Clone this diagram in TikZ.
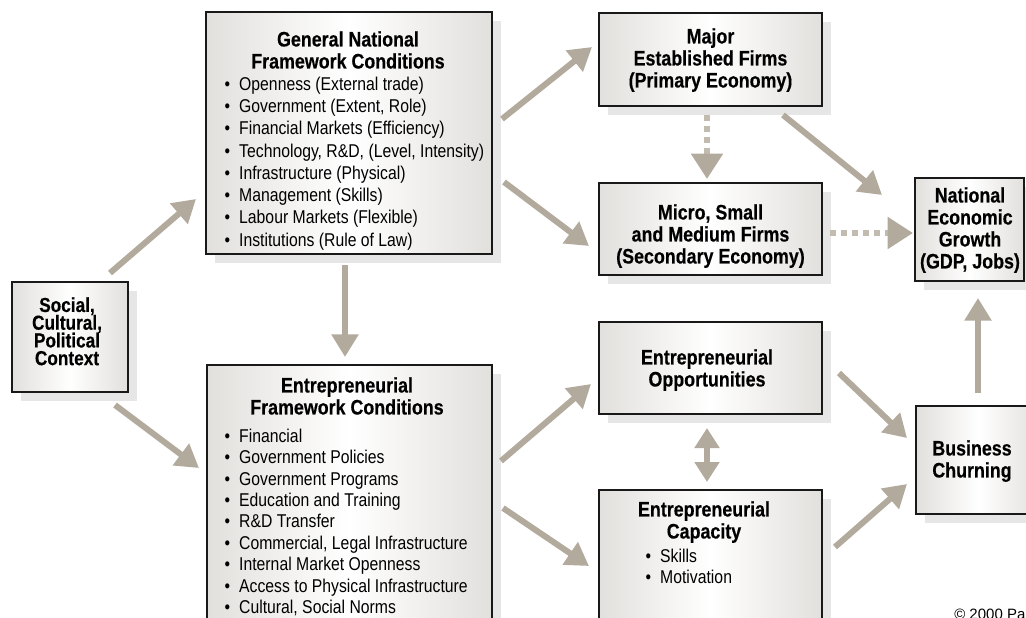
\documentclass[tikz,border=0pt]{standalone}
\usepackage{fontspec}
\setmainfont{Liberation Sans}[FakeStretch=0.85, BoldFeatures={FakeBold=0.4}]
\newfontfamily\notefont{Liberation Sans}
\usetikzlibrary{arrows.meta,calc,fit,shadows}

\definecolor{arrowtan}{RGB}{178,170,156}
\definecolor{dashtan}{RGB}{194,187,175}
\definecolor{boxedge}{RGB}{226,224,221}
\definecolor{shadowgray}{RGB}{230,230,230}
\definecolor{boxline}{RGB}{25,25,25}

% bullet marker with a fixed gap before the item text
\newcommand{\itm}{\makebox[11pt][l]{\textbullet}}
% let lines keep their baseline distance even when glyphs come close
\newcommand{\keepbaselines}{\lineskiplimit-20pt\relax}
\newcommand{\titlefont}[2]{\bfseries\fontsize{#1}{#2}\selectfont\keepbaselines}
\newcommand{\listfont}[1]{\fontsize{13.9pt}{#1}\selectfont\keepbaselines}

\tikzset{
  box/.style={draw=boxline, line width=1.1pt, inner sep=0pt, outer sep=0pt,
    left color=boxedge, right color=boxedge, middle color=white,
    drop shadow={shadow xshift=6.75pt, shadow yshift=-6.75pt,
      fill=shadowgray, opacity=1}},
  boxtitle/.style={font={\titlefont{15.75pt}{16.5pt}}, align=center, inner sep=0pt, anchor=north},
  tighttitle/.style={boxtitle, font={\titlefont{15.2pt}{13.3pt}}},
  itemlist/.style={font={\listfont{16.7pt}}, align=left, inner sep=0pt, anchor=north west},
  arr/.style={draw=arrowtan, line width=4.5pt,
    -{Triangle[width=19.5pt,length=17pt]}},
  dualarr/.style={draw=arrowtan, line width=4.5pt,
    {Triangle[width=18pt,length=15pt]}-{Triangle[width=18pt,length=15pt]}},
  dasharr/.style={draw=dashtan, line width=4.5pt, dash pattern=on 4.5pt off 3.75pt,
    -{Triangle[width=23pt,length=19pt,color=arrowtan]}},
}

\begin{document}
\begin{tikzpicture}[x=0.75pt,y=-0.75pt]
\useasboundingbox (0,0) rectangle (1026,618);
\clip (0,0) rectangle (1026,618);

% ---- boxes ----
\node[box, fit={(12,282)(128,392)}]   (social) {};
\node[box, fit={(206,12)(492,254)}]   (gnfc)   {};
\node[box, fit={(207,365)(492,650)}]  (efc)    {};
\node[box, fit={(599,13)(822,106)}]   (major)  {};
\node[box, fit={(599,183)(822,275)}]  (micro)  {};
\node[box, fit={(599,322)(822,414)}]  (opp)    {};
\node[box, fit={(599,490)(822,650)}]  (cap)    {};
\node[box, fit={(915,178)(1024,281)}] (natl)   {};
\node[box, fit={(916,406)(1040,514)}] (churn)  {};

% ---- box texts ----
\node[tighttitle] (socialtxt) at (67,297) {Social,\\Cultural,\\Political\\Context};

\node[boxtitle] (gnfctitle) at (348,31) {General National\\Framework Conditions};
\node[itemlist] (gnfclist) at (224.3,76.5) {%
  \itm Openness (External trade)\\
  \itm Government (Extent, Role)\\
  \itm Financial Markets (Efficiency)\\
  \itm Technology, R\&D, (Level, Intensity)\\
  \itm Infrastructure (Physical)\\
  \itm Management (Skills)\\
  \itm Labour Markets (Flexible)\\
  \itm Institutions (Rule of Law)};

\node[boxtitle] (efctitle) at (347,377) {Entrepreneurial\\Framework Conditions};
\node[itemlist, font={\listfont{16.05pt}}] (efclist) at (224.3,428.5) {%
  \itm Financial\\
  \itm Government Policies\\
  \itm Government Programs\\
  \itm Education and Training\\
  \itm R\&D Transfer\\
  \itm Commercial, Legal Infrastructure\\
  \itm Internal Market Openness\\
  \itm Access to Physical Infrastructure\\
  \itm Cultural, Social Norms};

\node[boxtitle] (majortxt) at (710.5,28) {Major\\Established Firms\\(Primary Economy)};
\node[boxtitle] (microtxt) at (710.5,204) {Micro, Small\\and Medium Firms\\(Secondary Economy)};
\node[boxtitle] (opptxt) at (707,349) {Entrepreneurial\\Opportunities};
\node[boxtitle] (captxt) at (704,501) {Entrepreneurial\\Capacity};
\node[itemlist, font={\listfont{15.75pt}}] (caplist) at (645.3,548.5) {%
  \itm Skills\\
  \itm Motivation};
\node[boxtitle] (natltxt) at (970,187) {National\\Economic\\Growth\\(GDP, Jobs)};
\node[boxtitle] (churntxt) at (972,440) {Business\\Churning};

\node[anchor=base west, inner sep=0pt, font={\notefont\fontsize{11.25pt}{13pt}\selectfont}]
  (note) at (954,619.5) {© 2000 Pa};

% ---- connectors ----
\draw[arr] ($(social.north east)+(-18,-9)$) -- ($(gnfc.south west)+(-10,-55)$);
\draw[arr] ($(social.south east)+(-13,13)$) -- ($(efc.north west)+(-8,103)$);
\draw[arr] ($(gnfc.south)+(-4,11)$) -- ($(efc.north)+(-4.5,-8)$);
\draw[arr] ($(gnfc.north east)+(10,107)$) -- ($(major.west)+(-7,-12.5)$);
\draw[arr] ($(gnfc.east)+(12,49)$) -- ($(micro.west)+(-10,17)$);
\draw[dasharr] ($(major.south)+(-3.5,9)$) -- ($(micro.north)+(-3.5,-4)$);
\draw[arr] ($(major.south east)+(-39,9)$) -- ($(natl.west)+(-33,-34.5)$);
\draw[dasharr] ($(micro.east)+(8,4)$) -- ($(natl.west)+(-2,3.5)$);
\draw[arr] ($(efc.north east)+(9,96)$) -- ($(opp.west)+(-8,16)$);
\draw[arr] ($(efc.north east)+(11,143)$) -- ($(cap.north west)+(-10,76)$);
\draw[dualarr] ($(opp.south)+(-3.5,14)$) -- ($(cap.north)+(-3.5,-8)$);
\draw[arr] ($(opp.east)+(17,5)$) -- ($(churn.west)+(-9,-22)$);
\draw[arr] ($(cap.north east)+(13,57)$) -- ($(churn.west)+(-9,24)$);
\draw[arr] ($(churn.north)+(0,-13)$) -- ($(natl.south)+(8.5,17)$);
\end{tikzpicture}
\end{document}
